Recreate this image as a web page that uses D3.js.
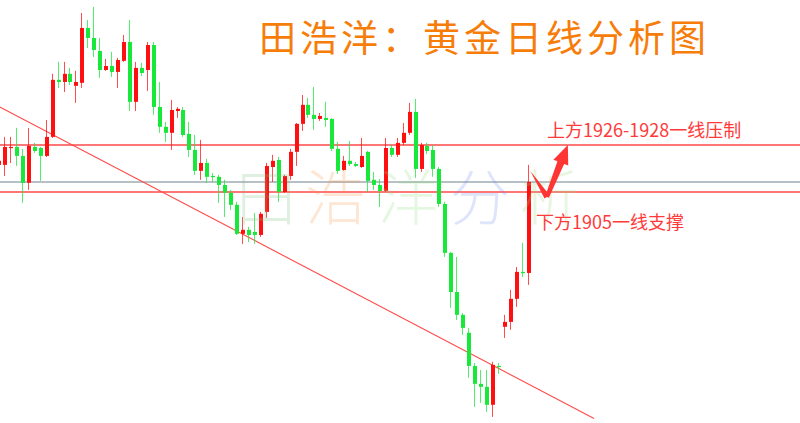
<!DOCTYPE html>
<html><head><meta charset="utf-8">
<script src="https://cdn.jsdelivr.net/npm/d3@7"></script>
<style>html,body{margin:0;padding:0;background:#fff;overflow:hidden}</style>
</head><body><svg id="c" width="800" height="423"></svg>
<script>
// ---- data (gold daily candles, index -1 .. 88) ----
const firstIndex = -1;
const open = [1917.7,
1917.7,1925.6,1926.1,1921.9,1909.3,1926.1,1925.6,1921.9,1930.8,1957.5,
1956.5,1960.3,1954.7,1956.1,1981.8,1977.1,1971.0,1962.1,1964.0,1961.2,
1966.4,1975.2,1947.2,1963.1,1962.1,1973.8,1944.8,1935.5,1932.7,1942.9,
1943.4,1932.2,1924.7,1914.9,1918.6,1912.5,1912.1,1908.3,1904.6,1899.0,
1885.4,1887.3,1886.3,1884.9,1895.7,1916.7,1920.0,1905.0,1912.5,1923.8,
1936.9,1945.8,1941.1,1939.2,1939.7,1939.2,1925.2,1915.3,1919.6,1918.1,
1916.7,1923.8,1910.7,1908.3,1905.5,1925.6,1922.4,1928.0,1932.7,1942.5,
1915.8,1926.6,1924.7,1915.8,1899.4,1876.5,1858.2,1847.5,1839.1,1823.6,
1815.2,1813.8,1805.4,1823.6,1841.9,1844.2,1855.0,1867.6,1867.1];
const close = [1919.6,
1926.1,1926.1,1921.9,1909.3,1926.6,1924.2,1921.9,1930.8,1957.5,1956.5,
1960.3,1956.5,1956.5,1981.8,1977.1,1971.5,1962.1,1964.0,1961.2,1966.8,
1975.2,1947.2,1963.1,1960.7,1973.8,1944.8,1935.5,1932.7,1943.4,1943.9,
1931.7,1924.7,1914.9,1918.6,1912.1,1912.1,1908.3,1904.6,1899.0,1885.4,
1887.3,1884.9,1884.9,1894.8,1917.2,1919.6,1905.0,1912.5,1923.8,1936.9,
1945.8,1941.1,1939.2,1940.6,1938.7,1925.2,1914.9,1919.6,1918.1,1917.2,
1921.9,1910.2,1908.3,1905.5,1925.6,1922.4,1928.0,1932.7,1942.5,1915.8,
1927.0,1924.2,1915.8,1899.4,1876.5,1858.2,1847.5,1841.4,1823.6,1815.2,
1813.8,1805.4,1824.1,1823.1,1844.2,1855.0,1867.6,1867.1,1909.7];
const high = [1920.0,
1930.8,1930.8,1935.0,1925.2,1935.0,1928.0,1926.1,1938.7,1960.3,1965.9,
1965.9,1963.1,1961.7,1988.8,1985.5,1991.6,1977.1,1967.3,1970.6,1967.8,
1978.5,1985.5,1965.9,1965.4,1975.2,1975.2,1956.5,1937.8,1948.1,1944.8,
1944.8,1937.8,1931.7,1929.4,1920.5,1913.9,1913.0,1910.7,1906.0,1900.4,
1893.3,1888.7,1895.2,1895.7,1918.6,1922.4,1921.4,1913.0,1925.2,1937.3,
1950.4,1949.0,1954.2,1942.0,1947.2,1939.6,1928.4,1921.9,1928.9,1919.1,
1930.3,1924.2,1914.4,1911.1,1930.3,1927.0,1930.3,1937.3,1946.7,1948.6,
1928.0,1928.0,1927.0,1916.7,1900.4,1877.0,1874.6,1848.4,1841.4,1825.0,
1821.7,1821.7,1825.5,1825.0,1847.5,1859.2,1869.9,1881.2,1917.7];
const low = [1917.2,
1912.5,1918.6,1917.2,1899.9,1906.0,1923.3,1910.2,1921.4,1930.3,1953.7,
1951.8,1955.1,1946.7,1953.7,1972.4,1968.2,1958.4,1961.7,1958.9,1953.7,
1965.9,1942.9,1942.9,1959.3,1952.3,1941.1,1932.7,1928.4,1924.7,1939.7,
1930.8,1921.4,1913.0,1910.7,1909.3,1909.7,1899.9,1893.3,1896.6,1884.9,
1880.7,1881.6,1880.7,1884.0,1892.9,1909.7,1900.4,1904.6,1910.7,1917.2,
1933.6,1939.7,1934.1,1938.3,1935.5,1924.2,1913.5,1914.9,1917.2,1916.7,
1916.3,1905.0,1906.0,1898.0,1905.0,1921.4,1921.4,1927.0,1931.7,1911.6,
1914.4,1922.8,1912.1,1898.0,1874.6,1850.8,1845.1,1838.1,1818.0,1804.4,
1806.3,1802.1,1799.7,1819.9,1836.7,1840.5,1851.2,1865.3,1861.5];

// key levels
const resistance = 1927;   // 1926-1928
const support = 1905;
const trendLine = [[-1, 1945.0], [99, 1799.0]];        // [index, price]
const arrowPts = [[88.3, 1914.8], [91.1, 1902.7], [94.6, 1927.0]];

const title = "田浩洋：黄金日线分析图";
const labelUp = "上方1926-1928一线压制";
const labelDown = "下方1905一线支撑";
const watermark = ["田","浩","洋","分","析"];
const watermarkColors = ["#7fbf7f","#f59a4a","#8fdc80","#6f8ff0","#9fd67f"];

// ---- build ----
const candles = open.map((o,k)=>({i:firstIndex+k,o,c:close[k],h:high[k],l:low[k]}));
const last = candles[candles.length-1];

const svg = d3.select("#c");
const W=800,H=423;
const x = d3.scaleLinear().domain([0,88]).range([5,528.6]);
const y = d3.scaleLinear().domain([support,resistance]).range([192,145]);

svg.append("rect").attr("width",W).attr("height",H).attr("fill","#fff");

// horizontal levels
const levels = [
  {p:resistance, color:"#ff4848", w:1.4},
  {p:last.c, color:"#b7bfc7", w:2},
  {p:support, color:"#ff4848", w:1.4}
];
svg.selectAll("line.lvl").data(levels).enter().append("line")
  .attr("x1",0).attr("x2",W)
  .attr("y1",d=>y(d.p)).attr("y2",d=>y(d.p))
  .attr("stroke",d=>d.color).attr("stroke-width",d=>d.w);

// trend line
svg.append("path")
  .attr("d", d3.line().x(d=>x(d[0])).y(d=>y(d[1]))(trendLine))
  .attr("stroke","#ff4a4a").attr("stroke-width",1.1).attr("fill","none");

// candles
const RED="#ff1010", GREEN="#18e83a";
const g = svg.append("g");
const cg = g.selectAll("g.cd").data(candles).enter().append("g");
cg.append("line")
  .attr("x1",d=>Math.round(x(d.i))-0.5).attr("x2",d=>Math.round(x(d.i))-0.5)
  .attr("y1",d=>y(d.h)).attr("y2",d=>y(d.l))
  .attr("stroke",d=>d.c>=d.o?RED:GREEN).attr("stroke-width",1)
  .attr("stroke-opacity",0.75);
cg.append("rect")
  .attr("x",d=>Math.round(x(d.i))-2).attr("width",4)
  .attr("y",d=>y(Math.max(d.o,d.c)))
  .attr("height",d=>Math.max(1.2, Math.abs(y(d.o)-y(d.c))))
  .attr("fill",d=>d.c>=d.o?RED:GREEN);

// watermark
const wmX = [266,335,408,480,550];
svg.selectAll("text.wm").data(watermark).enter().append("text")
  .attr("x",(d,k)=>wmX[k]).attr("y",220)
  .attr("text-anchor","middle")
  .attr("font-family","'Noto Sans CJK SC'").attr("font-weight",300)
  .attr("font-size",60)
  .attr("fill",(d,k)=>watermarkColors[k]).attr("fill-opacity",0.24)
  .text(d=>d);

// arrow
const P = arrowPts.map(d=>[x(d[0]),y(d[1])]);
function norm(v){const L=Math.hypot(v[0],v[1]);return [v[0]/L,v[1]/L];}
{
  const a=P[0], b=P[1], t=P[2];
  const u1=norm([b[0]-a[0],b[1]-a[1]]), n1=[-u1[1],u1[0]];
  svg.append("path").attr("fill","#ff3535")
    .attr("d",`M${a[0]},${a[1]}L${b[0]+n1[0]*3},${b[1]+n1[1]*3}L${b[0]-n1[0]*3},${b[1]-n1[1]*3}Z`);
  const u=norm([t[0]-b[0],t[1]-b[1]]), n=[-u[1],u[0]];
  const L=19, h=[t[0]-u[0]*L,t[1]-u[1]*L];
  const pt=(c,s)=>[c[0]+n[0]*s,c[1]+n[1]*s];
  const poly=[pt(b,-2),pt(h,-3.6),pt(h,-8),t,pt(h,8),pt(h,3.6),pt(b,2)];
  svg.append("path").attr("fill","#ff3535")
    .attr("d","M"+poly.map(p=>p.join(",")).join("L")+"Z");
}

// labels
svg.append("text").attr("x",547).attr("y",y(resistance)-8)
  .attr("font-family","'Noto Sans CJK SC'").attr("font-size",18)
  .attr("fill","#ff3a3a").text(labelUp);
svg.append("text").attr("x",536).attr("y",y(support)+37)
  .attr("font-family","'Noto Sans CJK SC'").attr("font-size",18)
  .attr("fill","#ff3a3a").text(labelDown);

// title
svg.append("text").attr("x",259).attr("y",52)
  .attr("font-family","'Noto Sans CJK SC'").attr("font-size",37)
  .attr("letter-spacing",4)
  .attr("fill","#f77d0a").text(title);
</script></body></html>
